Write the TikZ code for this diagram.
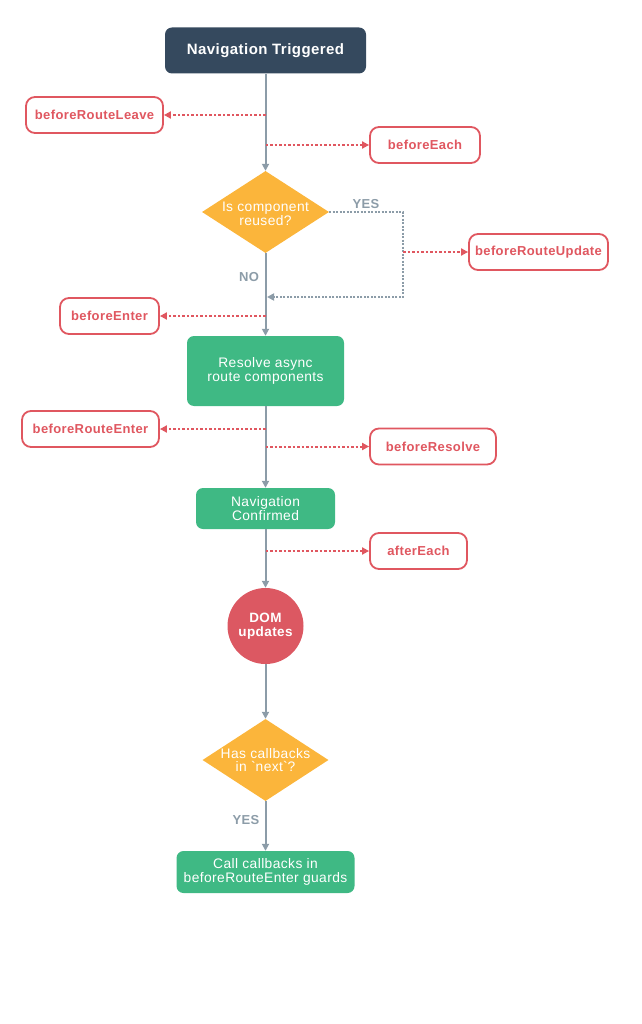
\documentclass[tikz,border=0pt]{standalone}
\usepackage{fontspec}
\setmainfont{Liberation Sans}[LetterSpace=3]
\usetikzlibrary{shapes.geometric,arrows.meta}
\definecolor{navy}{HTML}{35495E}
\definecolor{vgreen}{HTML}{3FB984}
\definecolor{vorange}{HTML}{FBB53B}
\definecolor{vred}{HTML}{E05760}
\definecolor{dred}{HTML}{DC5862}
\definecolor{lgray}{HTML}{8C9CA8}
\tikzset{
  hookbox/.style={draw=vred, line width=1.8pt, rounded corners=9pt, fill=white, text=vred,
    font=\bfseries\fontsize{13}{15}\selectfont, inner sep=0pt, minimum height=36pt},
  greenbox/.style={fill=vgreen, rounded corners=7pt, text=white, align=center,
    font=\fontsize{13.8}{13.5}\selectfont, inner sep=0pt},
  decision/.style={diamond, fill=vorange, inner sep=0pt},
  dectext/.style={text=white, align=center, font=\fontsize{13.8}{13.5}\selectfont, inner sep=0pt},
  gtext/.style={text=lgray, font=\bfseries\fontsize{13}{15}\selectfont, inner sep=0pt},
  flow/.style={draw=lgray, line width=2pt, -{Triangle[length=7pt,width=7pt]}},
  hookline/.style={draw=vred, line width=2pt, dash pattern=on 2.5pt off 2pt, -{Triangle[length=7pt,width=7pt]}},
  loopline/.style={draw=lgray, line width=2pt, dash pattern=on 2pt off 1.5pt, -{Triangle[length=7pt,width=7pt]}},
}
\begin{document}
\begin{tikzpicture}[x=1pt,y=-1pt]
\useasboundingbox (0,0) rectangle (641,1024);
% main flow nodes
\node[fill=navy, rounded corners=7pt, text=white, font=\bfseries\fontsize{15}{17}\selectfont,
  minimum width=201pt, minimum height=46pt, inner sep=0pt] (nav) at (265.5,50.5) {Navigation Triggered};
\node[decision, minimum width=127pt, minimum height=82pt] (d1) at (265.5,212) {};
\node[dectext] (d1t) at (265.5,214) {Is component\\reused?};
\node[greenbox, minimum width=157pt, minimum height=70pt] (res) at (265.5,371) {Resolve async\\route components};
\node[greenbox, minimum width=139pt, minimum height=41pt] (conf) at (265.5,508.5) {Navigation\\Confirmed};
\node[circle, fill=dred, minimum size=76pt, inner sep=0pt, text=white, align=center,
  font=\bfseries\fontsize{13.5}{14}\selectfont] (dom) at (265.5,626) {DOM\\updates};
\node[decision, minimum width=126pt, minimum height=82pt] (d2) at (265.5,760) {};
\node[dectext] (d2t) at (265.5,760) {Has callbacks\\in \textasciigrave next\textasciigrave ?};
\node[greenbox, minimum width=178pt, minimum height=42pt] (call) at (265.5,872) {Call callbacks in\\beforeRouteEnter guards};
% hook nodes
\node[hookbox, minimum width=137pt] (brl) at (94.5,115) {beforeRouteLeave};
\node[hookbox, minimum width=110pt] (be) at (425,145) {beforeEach};
\node[hookbox, minimum width=139pt] (bru) at (538.5,252) {beforeRouteUpdate};
\node[hookbox, minimum width=99pt] (ben) at (109.5,316) {beforeEnter};
\node[hookbox, minimum width=137pt] (bre) at (90.5,429) {beforeRouteEnter};
\node[hookbox, minimum width=126pt] (bres) at (433,446.5) {beforeResolve};
\node[hookbox, minimum width=97pt] (ae) at (418.5,551) {afterEach};
% labels
\node[gtext] (yes1) at (366,204) {YES};
\node[gtext] (no1) at (249,277) {NO};
\node[gtext] (yes2) at (246,820) {YES};
% main connectors
\draw[flow] (nav.south) -- (d1.north);
\draw[flow] (d1.south) -- (res.north);
\draw[flow] (res.south) -- (conf.north);
\draw[flow] (conf.south) -- (dom.north);
\draw[flow] (dom.south) -- (d2.north);
\draw[flow] (d2.south) -- (call.north);
% YES loop
\coordinate (lc) at (403,212);
\coordinate (lb) at (403,297);
\coordinate (lend) at (267,297);
\draw[loopline] (d1.east) -- (lc) -- (lb) -- (lend);
% hook connectors
\coordinate (h1) at (nav.south |- brl.east);
\coordinate (h2) at (nav.south |- be.west);
\coordinate (h3) at (lc |- bru.west);
\coordinate (h4) at (nav.south |- ben.east);
\coordinate (h5) at (nav.south |- bre.east);
\coordinate (h6) at (nav.south |- bres.west);
\coordinate (h7) at (nav.south |- ae.west);
\draw[hookline] (h1) -- (brl.east);
\draw[hookline] (h2) -- (be.west);
\draw[hookline] (h3) -- (bru.west);
\draw[hookline] (h4) -- (ben.east);
\draw[hookline] (h5) -- (bre.east);
\draw[hookline] (h6) -- (bres.west);
\draw[hookline] (h7) -- (ae.west);
\end{tikzpicture}
\end{document}
